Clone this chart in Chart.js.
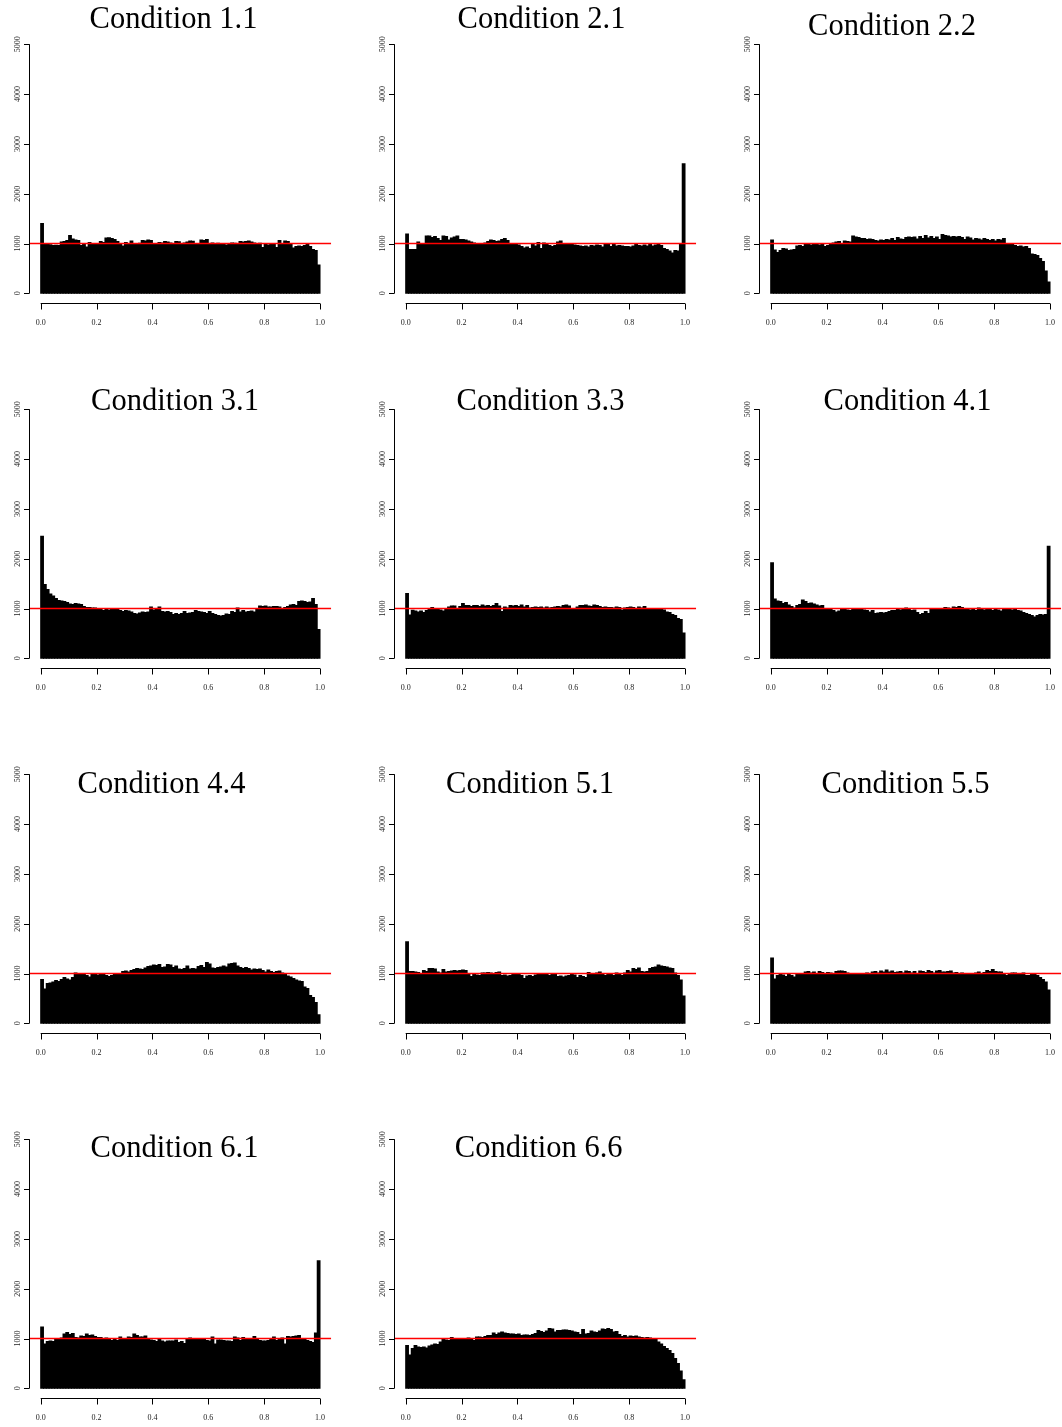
<!DOCTYPE html>
<html><head><meta charset="utf-8">
<script src="https://cdn.jsdelivr.net/npm/chart.js@4/dist/chart.umd.min.js"></script>
<style>
html,body{margin:0;padding:0;background:#fff;overflow:hidden;}
body{width:1062px;height:1427px;position:relative;}
canvas{position:absolute;}
</style></head><body>
<script>
// ---------- data ----------
const titles = ["Condition 1.1","Condition 2.1","Condition 2.2","Condition 3.1","Condition 3.3","Condition 4.1",
                "Condition 4.4","Condition 5.1","Condition 5.5","Condition 6.1","Condition 6.6"];
const binCount = 100;
const binWidth = 0.01;
const xTicks = [0, 0.2, 0.4, 0.6, 0.8, 1.0];
const xTickLabels = ["0.0","0.2","0.4","0.6","0.8","1.0"];
const yTicks = [0, 1000, 2000, 3000, 4000, 5000];
const yTickLabels = ["0","1000","2000","3000","4000","5000"];
const refLine = [1000];

const cond11 = [1400,990,980,975,960,965,960,1030,1040,1060,
 1160,1090,1070,1060,960,1000,930,1020,1000,995,
 1000,1040,1020,1110,1115,1100,1080,1040,980,950,
 1020,1000,1050,985,1000,1005,1060,1050,1070,1060,
 1000,995,1020,1010,1040,1030,1010,1000,1040,1035,
 990,1010,1030,1050,1045,1000,1000,1070,1060,1080,
 1000,1010,1000,1005,995,1000,970,990,1010,1005,
 1000,1040,1030,1040,1050,1030,1010,1000,1005,920,
 990,970,1000,995,920,1060,1000,1050,1040,980,
 910,940,950,940,960,990,940,880,860,570];
const cond21 = [1190,880,880,880,1030,1000,1000,1150,1150,1120,
 1140,1100,1060,1150,1140,1070,1110,1130,1150,1080,
 1080,1070,1050,1030,1010,990,1000,980,1010,1040,
 1070,1060,1040,1050,1080,1100,1060,1000,990,990,
 970,940,910,930,900,980,950,1020,900,1010,
 1000,960,940,960,1030,1050,990,980,990,1000,
 970,960,950,940,950,930,960,950,970,960,
 930,990,980,940,990,950,960,950,940,940,
 930,950,980,960,950,970,950,980,950,970,
 980,960,900,880,850,810,860,850,980,2600];
const cond22 = [1070,870,820,860,900,890,860,870,880,950,
 960,940,990,980,970,990,980,970,990,940,
 960,1000,1010,1030,1040,1000,1050,1040,1030,1150,
 1130,1120,1100,1100,1080,1090,1080,1060,1050,1070,
 1060,1080,1070,1100,1060,1120,1090,1080,1120,1130,
 1120,1130,1090,1140,1100,1160,1110,1140,1100,1130,
 1080,1180,1160,1150,1130,1140,1130,1140,1120,1080,
 1130,1110,1070,1100,1090,1070,1100,1080,1060,1080,
 1050,1080,1070,1100,1000,990,980,960,940,950,
 930,940,900,790,780,760,700,640,450,230];
const cond31 = [2450,1480,1380,1290,1250,1200,1160,1150,1140,1120,
 1090,1080,1100,1090,1080,1040,1020,1020,1010,1010,
 990,980,960,990,970,980,990,980,960,940,
 960,950,930,900,890,910,930,920,930,1030,
 970,980,1030,940,930,940,920,880,900,880,
 900,940,900,910,920,960,940,930,920,900,
 940,900,880,860,850,860,890,880,940,920,
 1010,930,960,930,940,950,930,980,1050,1040,
 1050,1030,1030,1040,1040,1030,1000,1020,1040,1070,
 1080,1060,1140,1150,1140,1120,1130,1200,1080,580];
const cond33 = [1300,870,965,950,930,950,920,960,1000,1020,
 980,990,970,950,1000,1030,1050,1050,980,1040,
 1100,1060,1060,1040,1060,1060,1040,1070,1050,1060,
 1040,1060,1100,1050,940,1030,1010,1060,1050,1060,
 1040,1070,1030,1060,1010,1020,1030,1020,1030,1010,
 1030,1010,1020,1030,1040,1030,1060,1070,1050,990,
 1000,1030,1060,1060,1070,1050,1040,1070,1060,1040,
 1020,1030,1020,1020,1010,1030,1020,970,1010,1020,
 1030,1020,990,1030,1010,1040,1000,990,980,1000,
 990,980,970,930,920,880,860,800,780,510];
const cond41 = [1920,1190,1150,1140,1100,1120,1070,1040,1010,1060,
 1080,1170,1140,1100,1110,1090,1070,1050,1060,1000,
 1000,990,960,930,950,980,1000,970,960,1000,
 980,1000,980,970,960,930,960,900,910,920,
 910,920,940,960,960,990,970,980,1010,1000,
 960,970,920,880,900,940,900,980,990,1000,
 990,1000,1020,1010,1000,1030,1020,1040,1020,990,
 1000,970,990,960,1010,990,970,990,980,960,
 1000,970,950,1000,990,980,970,1000,960,950,
 920,900,880,860,830,860,880,870,880,2250];
const cond44 = [880,690,800,810,830,860,840,880,920,890,
 870,920,1010,990,980,990,960,930,1000,990,
 970,1000,980,960,940,960,980,990,1000,1040,
 1050,1030,1060,1080,1100,1090,1080,1110,1140,1150,
 1170,1160,1180,1120,1130,1180,1170,1120,1150,1090,
 1080,1100,1150,1090,1100,1090,1140,1160,1120,1220,
 1190,1110,1100,1120,1130,1150,1130,1190,1200,1210,
 1150,1120,1100,1120,1100,1070,1090,1080,1090,1060,
 1030,1070,1040,1020,1040,1050,1010,990,950,930,
 900,870,850,840,730,700,560,520,420,170];
const cond51 = [1640,1040,1040,1030,1020,990,1060,1040,1100,1100,
 1090,1030,1010,1080,1030,1040,1050,1060,1050,1060,
 1070,1060,1000,940,990,970,960,1010,1010,1020,
 1010,990,1020,1030,960,970,950,960,980,1000,
 980,960,900,950,960,940,970,980,990,1000,
 990,960,990,1000,940,950,930,950,960,980,
 970,920,960,940,920,1020,1000,990,1010,1030,
 990,960,980,990,960,1010,990,960,1010,1060,
 1030,1100,1080,1110,1040,1030,1040,1100,1120,1130,
 1170,1150,1140,1130,1110,1100,1010,960,870,550];
const cond55 = [1310,890,960,980,970,940,980,960,930,990,
 1000,990,1030,1040,1010,1030,1000,1040,1020,990,
 1020,1010,1000,1040,1050,1050,1040,1010,1000,990,
 1000,980,1000,990,1010,1000,1030,1040,1010,1050,
 1030,1070,1030,1050,1020,1030,1040,1010,1050,1040,
 1010,1040,1000,1050,1040,1020,1060,1040,1010,1050,
 1060,1030,1030,1040,1050,1010,1020,990,1010,1000,
 1000,990,980,1010,1030,990,1020,1060,1040,1080,
 1040,1030,1030,990,960,1000,1010,1010,990,1000,
 1010,960,960,990,980,960,920,880,830,670];
const cond61 = [1230,890,940,950,940,1000,990,1010,1090,1120,
 1080,1100,1020,1010,1050,1040,1090,1060,1070,1040,
 1020,1020,1000,1010,990,960,980,960,1030,990,
 980,1030,1020,1090,1060,1030,1030,1050,980,970,
 960,940,980,950,930,950,950,950,970,920,
 940,900,980,1010,1000,980,990,1000,980,960,
 950,1030,890,970,970,960,950,950,940,1030,
 1010,960,1020,1000,1000,990,1040,990,960,950,
 950,960,1000,1030,960,990,1010,890,1040,1030,
 1040,1050,1060,1000,1000,960,940,920,1110,2560];
const cond66 = [860,670,800,860,830,820,830,810,850,870,
 890,880,930,980,970,960,1020,990,990,980,
 1000,990,1010,1000,960,1030,1030,1020,1040,1060,
 1060,1110,1080,1110,1130,1110,1100,1090,1090,1080,
 1090,1060,1070,1070,1060,1080,1100,1160,1140,1120,
 1150,1200,1190,1130,1160,1160,1170,1170,1160,1150,
 1130,1120,1080,1180,1090,1100,1150,1130,1120,1150,
 1190,1180,1200,1180,1130,1140,1080,1040,1060,1030,
 1050,1040,1050,1030,1020,1010,1020,1010,1000,980,
 930,890,840,800,760,700,600,500,350,170];

const series = [cond11,cond21,cond22,cond31,cond33,cond41,cond44,cond51,cond55,cond61,cond66];

// ---------- layout (not data) ----------
const cell = 365;
const canvasW = 332, canvasH = 365;
const area = {left: 29.5, right: 331.2, top: 34.3, bottom: 303.3};
const xRange = [-0.04, 1.04], yRange = [-200, 5200];
const titlePos = [[173.5,28],[176.5,28],[162,35],[175,45],[175.5,45],[177.5,45],
                  [161.5,63],[165,63],[175.5,63],[174.5,62],[173.7,62]];

const serif = '"Liberation Serif","Times New Roman",Times,serif';

const rAxes = {
  id: 'rAxes',
  afterDraw(chart, args, opts) {
    const ctx = chart.ctx, a = chart.chartArea, x = chart.scales.x, y = chart.scales.y;
    ctx.save();
    ctx.strokeStyle = '#000';
    ctx.lineWidth = 1;
    const xb = Math.round(a.bottom) + 0.5;
    const yl = Math.round(a.left - 0.5) + 0.5;
    ctx.beginPath();
    ctx.moveTo(x.getPixelForValue(xTicks[0]), xb);
    ctx.lineTo(x.getPixelForValue(xTicks[xTicks.length - 1]), xb);
    xTicks.forEach(v => { const p = Math.round(x.getPixelForValue(v)) + 0.5; ctx.moveTo(p, xb); ctx.lineTo(p, xb + 6); });
    ctx.moveTo(yl, y.getPixelForValue(yTicks[0]));
    ctx.lineTo(yl, y.getPixelForValue(yTicks[yTicks.length - 1]));
    yTicks.forEach(v => { const p = Math.round(y.getPixelForValue(v)) + 0.5; ctx.moveTo(yl, p); ctx.lineTo(yl - 5.5, p); });
    ctx.stroke();

    ctx.fillStyle = '#222';
    ctx.font = '8px ' + serif;
    ctx.textAlign = 'center';
    ctx.textBaseline = 'alphabetic';
    xTicks.forEach((v, i) => ctx.fillText(xTickLabels[i], x.getPixelForValue(v), a.bottom + 21.2));
    yTicks.forEach((v, i) => {
      ctx.save();
      ctx.translate(a.left - 10, y.getPixelForValue(v));
      ctx.rotate(-Math.PI / 2);
      ctx.fillText(yTickLabels[i], 0, 0);
      ctx.restore();
    });

    ctx.fillStyle = '#000';
    ctx.font = '30.5px ' + serif;
    ctx.textAlign = 'center';
    ctx.fillText(opts.title, opts.tx, opts.ty);
    ctx.restore();
  }
};

series.forEach((vals, i) => {
  const col = i % 3, row = Math.floor(i / 3);
  const cv = document.createElement('canvas');
  cv.width = canvasW; cv.height = canvasH;
  cv.style.left = (col * cell) + 'px';
  cv.style.top = (row * cell) + 'px';
  cv.style.width = canvasW + 'px'; cv.style.height = canvasH + 'px';
  document.body.appendChild(cv);

  const bars = vals.map((v, k) => ({x: (k + 0.5) * binWidth, y: v}));
  new Chart(cv.getContext('2d'), {
    type: 'bar',
    data: {
      datasets: [
        {
          type: 'line',
          data: [{x: xRange[0], y: refLine[0]}, {x: xRange[1], y: refLine[0]}],
          borderColor: '#ff0000', borderWidth: 1.5, pointRadius: 0, fill: false, order: 0
        },
        {
          type: 'bar',
          data: bars,
          backgroundColor: '#000', borderWidth: 0,
          barPercentage: 1, categoryPercentage: 1, inflateAmount: 0.5, order: 1
        }
      ]
    },
    options: {
      responsive: false, animation: false, devicePixelRatio: 1, events: [],
      layout: {padding: {left: area.left, right: canvasW - area.right, top: area.top, bottom: canvasH - area.bottom}},
      scales: {
        x: {type: 'linear', min: xRange[0], max: xRange[1], offset: false, display: false},
        y: {type: 'linear', min: yRange[0], max: yRange[1], display: false}
      },
      plugins: {
        legend: {display: false}, tooltip: {enabled: false}, title: {display: false},
        rAxes: {title: titles[i], tx: titlePos[i][0], ty: titlePos[i][1]}
      }
    },
    plugins: [rAxes]
  });
});
</script>
</body></html>
